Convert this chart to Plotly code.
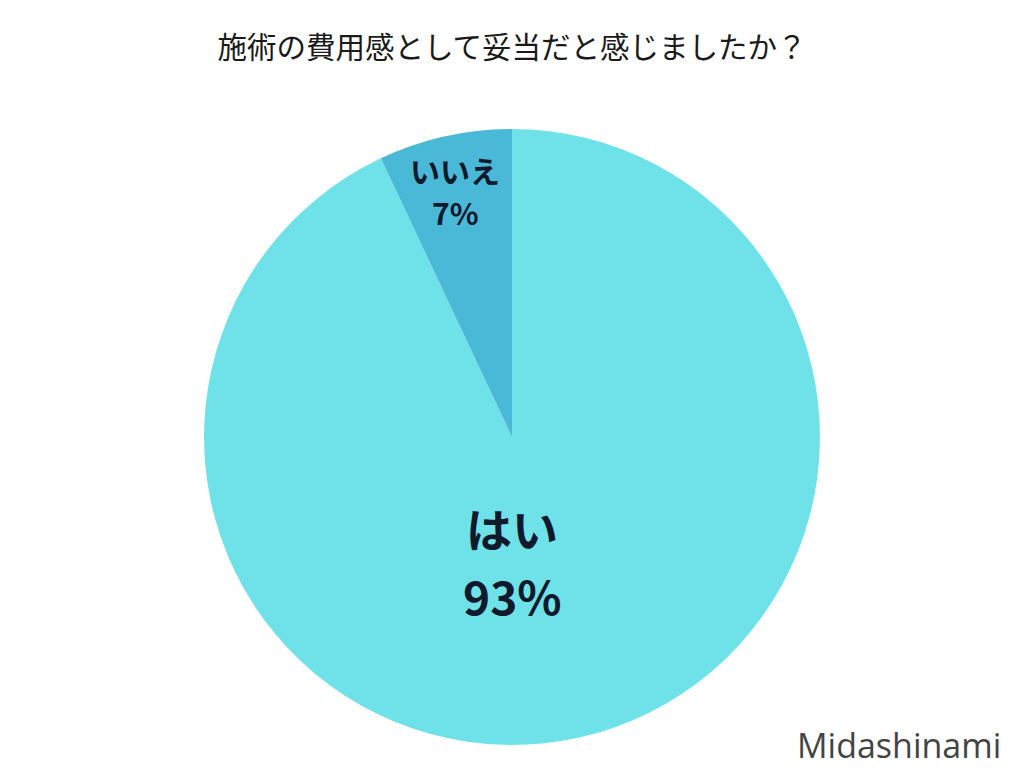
import plotly.graph_objects as go

# data
labels = ["はい", "いいえ"]
values = [93, 7]
colors = ["#6fe2e9", "#4ab8d7"]
title_text = "施術の費用感として妥当だと感じましたか？"
credit = "Midashinami"

# label placement per slice (paper coords) and font size
label_pos = [(0.5, 1 - 527 / 768, 1 - 595 / 768, 46), (455 / 1024, 1 - 170 / 768, 1 - 212 / 768, 30)]

fig = go.Figure(
    go.Pie(
        labels=labels,
        values=values,
        sort=False,
        direction="clockwise",
        rotation=0,
        marker={"colors": colors, "line": {"width": 0}},
        textinfo="none",
        domain={"x": [0.199, 0.801], "y": [0.030, 0.832]},
        showlegend=False,
        hoverinfo="label+percent",
    )
)

annotations = []
total = sum(values)
for lab, val, (x, y1, y2, size) in zip(labels, values, label_pos):
    for txt, y in [(lab, y1), (f"{round(100 * val / total)}%", y2)]:
        annotations.append({
            "text": f"<b>{txt}</b>",
            "x": x, "y": y, "xref": "paper", "yref": "paper",
            "xanchor": "center", "yanchor": "middle", "showarrow": False,
            "font": {"family": "Noto Sans CJK JP", "size": size, "color": "#101a2c"},
        })

annotations.append({
    "text": credit,
    "x": 1003 / 1024, "y": 1 - 745 / 768,
    "xref": "paper", "yref": "paper",
    "xanchor": "right", "yanchor": "middle",
    "showarrow": False,
    "font": {"family": "Open Sans", "size": 34, "color": "#444444"},
})

fig.update_layout(
    width=1024,
    height=768,
    margin={"l": 0, "r": 0, "t": 0, "b": 0},
    paper_bgcolor="white",
    plot_bgcolor="white",
    title={
        "text": title_text,
        "x": 0.5,
        "xanchor": "center",
        "y": 1 - 48 / 768,
        "yanchor": "middle",
        "font": {"family": "Noto Sans CJK JP", "size": 29.5, "color": "#1a1a1a"},
    },
    annotations=annotations,
)

fig.write_html(
    "out.html",
    config={"displayModeBar": False},
    post_script="document.body.style.margin='0';document.body.style.overflow='hidden';",
)
